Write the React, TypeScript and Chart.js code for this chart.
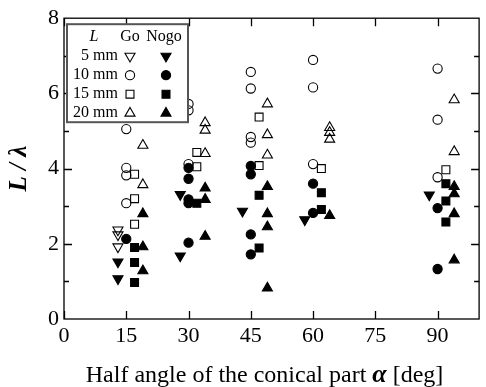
import React, { useEffect, useRef } from 'react';
import { Chart, registerables } from 'chart.js';

Chart.register(...registerables);

// Half angles of the conical part (deg)
const angles = [15, 30, 45, 60, 90];
const xTicks = [0, 15, 30, 45, 60, 75, 90];
const yTicks = [0, 2, 4, 6, 8];
const lengthLabels = ['5 mm', '10 mm', '15 mm', '20 mm'];

// L / lambda values, grouped by angle (same order as `angles`)
const go5 = [[2.37, 2.24, 1.92], [], [], [], []];
const go10 = [[5.05, 4.02, 3.82, 3.08], [5.72, 5.55, 4.12], [6.57, 6.13, 4.84, 4.69], [6.89, 6.16, 4.12], [6.66, 5.3, 3.77]];
const go15 = [[3.85, 3.2, 2.52], [4.43, 4.05], [5.37, 4.08], [4.0], [3.97]];
const go20 = [[4.62, 3.57], [5.22, 5.02, 4.4], [5.72, 4.9, 4.36], [5.09, 4.96, 4.78], [5.83, 4.45]];
const nogo5 = [[1.52, 1.07], [3.31, 1.68], [2.87], [2.64], [3.3]];
const nogo10 = [[2.13], [4.02, 3.73, 3.18, 3.08, 2.03], [4.07, 3.85, 2.25, 1.72], [3.6, 2.82], [2.95, 1.33]];
const nogo15 = [[1.9, 1.5, 0.97], [3.08], [3.29, 1.89], [3.36, 2.91], [3.6, 3.14, 2.58]];
const nogo20 = [[2.8, 1.92, 1.28], [3.48, 3.18, 2.2], [3.52, 2.8, 2.45, 0.82], [2.75], [3.52, 3.33, 2.8, 1.57]];

// horizontal spread of each length around its angle (deg)
const spread = [-2, 0, 2, 4];

const SERIF = '"Liberation Serif", "Times New Roman", serif';

type Shape = { style: string; rot: number; r: number };
const shapes: Shape[] = [
  { style: 'triangle', rot: 180, r: 5.8 },
  { style: 'circle', rot: 0, r: 4.6 },
  { style: 'rect', rot: 0, r: 5.6 },
  { style: 'triangle', rot: 0, r: 5.8 },
];

function drawMarker(ctx: CanvasRenderingContext2D, s: Shape, x: number, y: number, filled: boolean) {
  ctx.save();
  ctx.beginPath();
  const r = s.r;
  if (s.style === 'circle') {
    ctx.arc(x, y, r, 0, Math.PI * 2);
  } else if (s.style === 'rect') {
    const h = Math.SQRT1_2 * r;
    ctx.rect(x - h, y - h, 2 * h, 2 * h);
  } else {
    let rad = (s.rot * Math.PI) / 180;
    for (let i = 0; i < 3; i++) {
      const px = x + Math.sin(rad) * r;
      const py = y - Math.cos(rad) * r;
      if (i === 0) ctx.moveTo(px, py);
      else ctx.lineTo(px, py);
      rad += (2 * Math.PI) / 3;
    }
    ctx.closePath();
  }
  ctx.lineWidth = 1.1;
  ctx.strokeStyle = '#000';
  if (filled) {
    ctx.fillStyle = '#000';
    ctx.fill();
  }
  ctx.stroke();
  ctx.restore();
}

function makeDataset(vals: number[][], idx: number, filled: boolean, label: string) {
  const s = shapes[idx];
  return {
    label,
    data: angles.flatMap((a, i) => vals[i].map((v) => ({ x: a + spread[idx], y: v }))),
    showLine: false,
    pointStyle: s.style,
    pointRotation: s.rot,
    pointRadius: s.r,
    pointHoverRadius: s.r,
    pointBackgroundColor: filled ? '#000' : 'rgba(0,0,0,0)',
    pointBorderColor: '#000',
    pointBorderWidth: 1.1,
  };
}

const framePlugin = {
  id: 'framePlugin',
  afterDatasetsDraw(chart: any) {
    const { ctx, chartArea } = chart;
    const { left, right, top, bottom } = chartArea;
    const xs = chart.scales.x;
    const ys = chart.scales.y;
    ctx.save();
    ctx.strokeStyle = '#000';
    ctx.lineWidth = 1.3;
    ctx.strokeRect(left, top, right - left, bottom - top);
    ctx.beginPath();
    for (const v of xTicks) {
      const px = Math.round(xs.getPixelForValue(v)) + 0.5;
      ctx.moveTo(px, bottom);
      ctx.lineTo(px, bottom - 8);
      ctx.moveTo(px, top);
      ctx.lineTo(px, top + 8);
    }
    for (let v = 1; v < 8; v++) {
      const py = Math.round(ys.getPixelForValue(v)) + 0.5;
      const len = v % 2 === 0 ? 8 : 5;
      ctx.moveTo(left, py);
      ctx.lineTo(left + len, py);
      ctx.moveTo(right, py);
      ctx.lineTo(right - len, py);
    }
    ctx.stroke();

    // legend box
    const bx = left + 3;
    const by = top + 6;
    const bw = 121;
    const bh = 98;
    ctx.fillStyle = '#fff';
    ctx.fillRect(bx, by, bw, bh);
    ctx.strokeStyle = '#555';
    ctx.lineWidth = 2;
    ctx.strokeRect(bx, by, bw, bh);
    ctx.fillStyle = '#000';
    ctx.textBaseline = 'middle';
    ctx.font = `italic 16px ${SERIF}`;
    ctx.textAlign = 'center';
    ctx.fillText('L', bx + 27, by + 13);
    ctx.font = `16px ${SERIF}`;
    ctx.fillText('Go', bx + 63, by + 13);
    ctx.fillText('Nogo', bx + 97, by + 13);
    lengthLabels.forEach((lab, i) => {
      const yy = by + 32 + i * 19;
      ctx.textAlign = 'right';
      ctx.fillText(lab, bx + 51, yy);
      drawMarker(ctx, shapes[i], bx + 63, yy, false);
      drawMarker(ctx, shapes[i], bx + 99, yy, true);
    });
    ctx.restore();
  },
  afterDraw(chart: any) {
    const { ctx, chartArea } = chart;
    ctx.save();
    ctx.fillStyle = '#000';
    // x title with a bold italic alpha
    const parts = [
      { t: 'Half angle of the conical part ', f: `24px ${SERIF}` },
      { t: 'α', f: `bold italic 26px ${SERIF}` },
      { t: ' [deg]', f: `24px ${SERIF}` },
    ];
    let total = 0;
    const widths = parts.map((p) => {
      ctx.font = p.f;
      const w = ctx.measureText(p.t).width;
      total += w;
      return w;
    });
    let x = (chartArea.left + chartArea.right) / 2 - 7 - total / 2;
    ctx.textAlign = 'left';
    ctx.textBaseline = 'alphabetic';
    parts.forEach((p, i) => {
      ctx.font = p.f;
      ctx.fillText(p.t, x, 382);
      x += widths[i];
    });
    // y title
    ctx.translate(20, (chartArea.top + chartArea.bottom) / 2);
    ctx.rotate(-Math.PI / 2);
    ctx.font = `bold italic 25px ${SERIF}`;
    ctx.textAlign = 'center';
    ctx.textBaseline = 'middle';
    ctx.fillText('L / λ', 0, 0);
    ctx.restore();
  },
};

export default function App() {
  const ref = useRef<HTMLCanvasElement>(null);
  useEffect(() => {
    const canvas = ref.current;
    if (!canvas) return;
    const chart = new Chart(canvas, {
      type: 'scatter',
      data: {
        datasets: [
          makeDataset(go5, 0, false, 'Go 5 mm'),
          makeDataset(go10, 1, false, 'Go 10 mm'),
          makeDataset(go15, 2, false, 'Go 15 mm'),
          makeDataset(go20, 3, false, 'Go 20 mm'),
          makeDataset(nogo5, 0, true, 'Nogo 5 mm'),
          makeDataset(nogo10, 1, true, 'Nogo 10 mm'),
          makeDataset(nogo15, 2, true, 'Nogo 15 mm'),
          makeDataset(nogo20, 3, true, 'Nogo 20 mm'),
        ] as any,
      },
      options: {
        responsive: false,
        animation: false,
        devicePixelRatio: 1,
        layout: { padding: { top: 15, right: 1, left: 0, bottom: 0 } },
        plugins: { legend: { display: false }, tooltip: { enabled: false } },
        scales: {
          x: {
            type: 'linear',
            min: 0,
            max: 100,
            grid: { display: false, drawTicks: false },
            border: { display: false },
            ticks: {
              color: '#000',
              font: { family: SERIF, size: 22 },
              padding: 4,
              maxRotation: 0,
              autoSkip: false,
            },
            afterBuildTicks: (s: any) => {
              s.ticks = xTicks.map((v) => ({ value: v }));
            },
            afterFit: (s: any) => {
              s.height = 68;
            },
          },
          y: {
            type: 'linear',
            min: 0,
            max: 8,
            grid: { display: false, drawTicks: false },
            border: { display: false },
            ticks: {
              color: '#000',
              font: { family: SERIF, size: 22 },
              padding: 5,
            },
            afterBuildTicks: (s: any) => {
              s.ticks = yTicks.map((v) => ({ value: v }));
            },
            afterFit: (s: any) => {
              s.width = 64;
            },
          },
        },
      } as any,
      plugins: [framePlugin],
    });
    return () => chart.destroy();
  }, []);
  return (
    <div style={{ position: 'fixed', left: 0, top: 0, width: 486, height: 387, background: '#fff' }}>
      <canvas ref={ref} width={486} height={387} style={{ width: 486, height: 387, display: 'block' }} />
    </div>
  );
}
